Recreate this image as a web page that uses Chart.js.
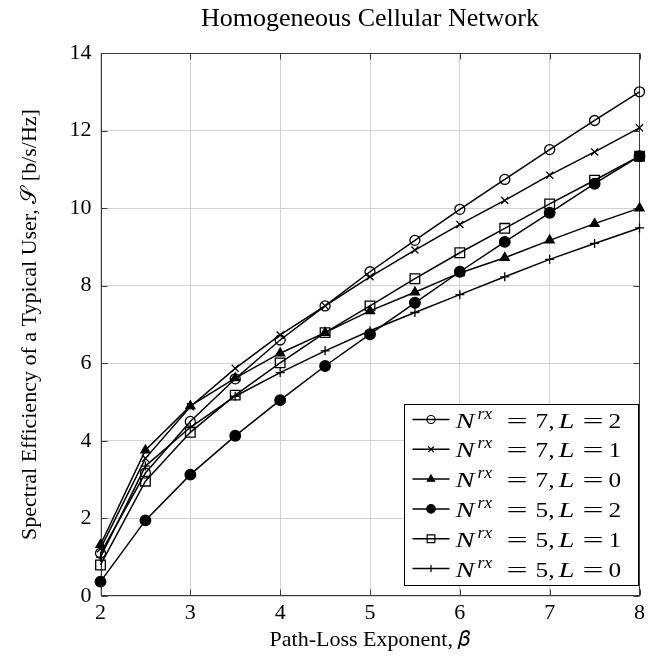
<!DOCTYPE html>
<html>
<head>
<meta charset="utf-8">
<script src="https://cdn.jsdelivr.net/npm/chart.js@4.4.1/dist/chart.umd.min.js"></script>
<style>
  html,body{margin:0;padding:0;background:#fff;}
  #wrap{width:649px;height:661px;}
</style>
</head>
<body>
<div id="wrap"><canvas id="c" width="649" height="661"></canvas></div>
<script>
// path-loss exponent values on the x axis
const beta = [2, 2.5, 3, 3.5, 4, 4.5, 5, 5.5, 6, 6.5, 7, 7.5, 8];

// spectral efficiency per configuration
const n7l2 = [1.10, 3.17, 4.50, 5.60, 6.60, 7.48, 8.36, 9.17, 9.97, 10.74, 11.51, 12.26, 13.00];
const n7l1 = [1.22, 3.55, 4.88, 5.87, 6.73, 7.48, 8.23, 8.92, 9.58, 10.20, 10.85, 11.45, 12.07];
const n7l0 = [1.32, 3.76, 4.90, 5.62, 6.26, 6.79, 7.35, 7.83, 8.33, 8.72, 9.17, 9.60, 10.00];
const n5l2 = [0.37, 1.95, 3.13, 4.13, 5.05, 5.93, 6.75, 7.56, 8.36, 9.13, 9.88, 10.63, 11.34];
const n5l1 = [0.80, 2.96, 4.22, 5.18, 6.01, 6.79, 7.48, 8.18, 8.85, 9.48, 10.11, 10.72, 11.34];
const n5l0 = [1.00, 3.35, 4.35, 5.15, 5.76, 6.32, 6.84, 7.31, 7.77, 8.23, 8.68, 9.09, 9.49];

const nrx = [7, 7, 7, 5, 5, 5];
const lval = [2, 1, 0, 2, 1, 0];
const series = [n7l2, n7l1, n7l0, n5l2, n5l1, n5l0];

const xTicks = [2, 3, 4, 5, 6, 7, 8];
const yTicks = [0, 2, 4, 6, 8, 10, 12, 14];

const SERIF = '"Liberation Serif", "DejaVu Serif", serif';

// marker look per series (circle, x, triangle, dot, square, plus)
const marks = [
  {pointStyle:'circle',   radius:5,   fill:'rgba(0,0,0,0)'},
  {pointStyle:'crossRot', radius:5,   fill:'rgba(0,0,0,0)'},
  {pointStyle:'triangle', radius:5.2, fill:'#000'},
  {pointStyle:'circle',   radius:5.3, fill:'#000'},
  {pointStyle:'rect',     radius:6.8, fill:'rgba(0,0,0,0)'},
  {pointStyle:'cross',    radius:4.5, fill:'rgba(0,0,0,0)'}
];

const datasets = series.map((vals, i) => ({
  label: 'N^rx = ' + nrx[i] + ', L = ' + lval[i],
  data: beta.map((b, j) => ({x: b, y: vals[j]})),
  borderColor: '#000',
  borderWidth: 1.5,
  backgroundColor: marks[i].fill,
  pointStyle: marks[i].pointStyle,
  pointRadius: marks[i].radius,
  pointBorderColor: '#000',
  pointBackgroundColor: marks[i].fill,
  pointBorderWidth: 1.3,
  tension: 0,
  clip: false
}));

// draw one piece of math-ish text, stretched sideways like the TeX glyphs
function piece(ctx, txt, x, y, font, sx) {
  ctx.save();
  ctx.font = font;
  ctx.translate(x, y);
  ctx.scale(sx, 1);
  ctx.fillText(txt, 0, 0);
  ctx.restore();
}

// frame, inward ticks and the boxed legend (pgfplots look)
const frameAndLegend = {
  id: 'frameAndLegend',
  beforeDatasetsDraw(chart) {
    const {ctx, chartArea:{left,right,top,bottom}, scales:{x,y}} = chart;
    const L = Math.round(left)+0.5, R = Math.round(right)-0.5, T = Math.round(top)+0.5, B = Math.round(bottom)-0.5;
    ctx.save();
    ctx.strokeStyle = '#3a3a3a'; ctx.lineWidth = 1;
    ctx.beginPath();
    xTicks.forEach(v => {
      const px = Math.round(x.getPixelForValue(v))+0.5;
      ctx.moveTo(px,B); ctx.lineTo(px,B-6);
      ctx.moveTo(px,T); ctx.lineTo(px,T+6);
    });
    yTicks.forEach(v => {
      const py = Math.round(y.getPixelForValue(v))+0.5;
      ctx.moveTo(L,py); ctx.lineTo(L+6,py);
      ctx.moveTo(R,py); ctx.lineTo(R-6,py);
    });
    ctx.stroke();
    ctx.strokeRect(L,T,R-L,B-T);
    ctx.restore();
  },
  afterDatasetsDraw(chart) {
    const {ctx, chartArea:{right,bottom}} = chart;
    const w = 234, h = 181;
    const x0 = Math.round(right-2-w)+0.5, y0 = Math.round(bottom-11-h)+0.5;
    ctx.save();
    ctx.fillStyle = '#fff';
    ctx.fillRect(x0,y0,w,h);
    ctx.strokeStyle = '#000'; ctx.lineWidth = 1;
    ctx.strokeRect(x0,y0,w,h);
    const it = 'italic 22px ' + SERIF, rm = '22px ' + SERIF, sup = 'italic 16px ' + SERIF;
    chart.data.datasets.forEach((ds, i) => {
      const cy = y0 + 15 + i*29.8;
      ctx.strokeStyle = '#000'; ctx.lineWidth = 1.5;
      ctx.beginPath(); ctx.moveTo(x0+8,cy); ctx.lineTo(x0+45,cy); ctx.stroke();
      ctx.fillStyle = marks[i].fill; ctx.lineWidth = 1.2;
      Chart.helpers.drawPoint(ctx, {pointStyle: marks[i].pointStyle, radius: marks[i].radius*0.8, rotation:0, borderWidth:1.2}, x0+26.5, cy);
      // N^{rx} = a, L = b
      const tx = x0 + 51, by = cy + 8;
      ctx.fillStyle = '#000'; ctx.textBaseline = 'alphabetic'; ctx.textAlign = 'left';
      piece(ctx, 'N', tx, by, it, 1.3);
      piece(ctx, 'rx', tx + 22, by - 9, sup, 1.1);
      piece(ctx, '=', tx + 51, by, rm, 1.7);
      piece(ctx, nrx[i] + ',', tx + 80, by, rm, 1.15);
      piece(ctx, 'L', tx + 103, by, it, 1.3);
      piece(ctx, '=', tx + 127, by, rm, 1.7);
      piece(ctx, String(lval[i]), tx + 153, by, rm, 1.15);
    });
    ctx.restore();
  }
};

new Chart(document.getElementById('c'), {
  type: 'line',
  data: { datasets },
  options: {
    responsive: false,
    animation: false,
    layout: { padding: { left: 0, right: 6, top: 0, bottom: 0 } },
    plugins: { legend: { display: false }, tooltip: { enabled: false }, title: { display: false } },
    scales: {
      x: {
        type: 'linear', min: 2, max: 8, position: 'bottom',
        afterBuildTicks(s) { s.ticks = xTicks.map(v => ({value: v})); },
        afterFit(s) { s.height = 65; },
        grid: { color: '#d2d2d2', lineWidth: 1, drawTicks: false },
        border: { display: false },
        ticks: { color: '#000', padding: 4, maxRotation: 0, font: { family: SERIF, size: 22 } },
        title: { display: true, text: 'Path-Loss Exponent, 𝛽', color: '#000', padding: { top: 0, bottom: 8 }, font: { family: SERIF, size: 22 } }
      },
      xTop: {
        type: 'linear', min: 2, max: 8, position: 'top',
        afterFit(s) { s.height = 53; },
        grid: { display: false, drawTicks: false },
        border: { display: false },
        ticks: { display: false },
        title: { display: true, text: 'Homogeneous Cellular Network', color: '#000', padding: { top: 4, bottom: 0 }, font: { family: SERIF, size: 26 } }
      },
      y: {
        type: 'linear', min: 0, max: 14,
        afterBuildTicks(s) { s.ticks = yTicks.map(v => ({value: v})); },
        afterFit(s) { s.width = 100.5; },
        grid: { color: '#d2d2d2', lineWidth: 1, drawTicks: false },
        border: { display: false },
        ticks: { color: '#000', padding: 9, font: { family: SERIF, size: 22 } },
        title: { display: true, text: 'Spectral Efficiency of a Typical User, 𝒮 [b/s/Hz]', color: '#000', padding: { top: 17, bottom: 0 }, font: { family: SERIF, size: 22 } }
      }
    }
  },
  plugins: [frameAndLegend]
});
</script>
</body>
</html>
